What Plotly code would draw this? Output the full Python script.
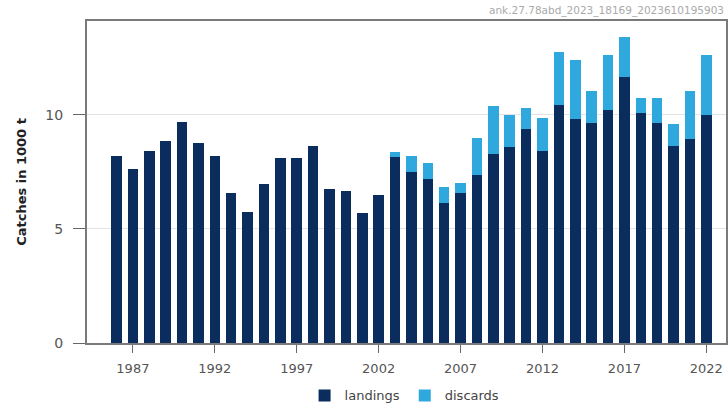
import plotly.graph_objects as go

years = list(range(1986, 2023))
landings = [8.2, 7.65, 8.4, 8.84, 9.68, 8.79, 8.18, 6.56, 5.75, 6.97, 8.1, 8.13, 8.65,
            6.75, 6.66, 5.72, 6.5, 8.17, 7.52, 7.19, 6.12, 6.59, 7.36, 8.27, 8.61,
            9.37, 8.42, 10.44, 9.82, 9.63, 10.22, 11.65, 10.07, 9.66, 8.65, 8.95, 10.01]
totals = [8.2, 7.65, 8.4, 8.84, 9.68, 8.79, 8.18, 6.56, 5.75, 6.97, 8.1, 8.13, 8.65,
          6.75, 6.66, 5.72, 6.5, 8.36, 8.21, 7.91, 6.82, 7.0, 8.97, 10.4, 10.01,
          10.29, 9.88, 12.74, 12.39, 11.07, 12.65, 13.44, 10.76, 10.76, 9.59, 11.07, 12.61]
discards = [round(t - l, 2) for t, l in zip(totals, landings)]
tick_years = [1987, 1992, 1997, 2002, 2007, 2012, 2017, 2022]
y_ticks = [0, 5, 10]

fig = go.Figure()
fig.add_trace(go.Bar(x=years, y=landings, name="landings", marker_color="#0b2d5e",
                     marker_line_width=0, width=0.64))
fig.add_trace(go.Bar(x=years, y=discards, name="discards", marker_color="#2fa8de",
                     marker_line_width=0, width=0.64))

fig.update_layout(
    width=728, height=406,
    barmode="stack",
    margin=dict(l=87, r=2, t=21, b=63, autoexpand=False),
    paper_bgcolor="white", plot_bgcolor="white",
    font=dict(family="DejaVu Sans", size=13, color="#555555"),
    legend=dict(orientation="h", x=0.497, xanchor="center", yref="container",
                y=0.026, yanchor="middle",
                font=dict(size=13, color="#444444"), itemwidth=30, traceorder="normal"),
    xaxis=dict(range=[1984.2, 2023.2], tickmode="array", tickvals=tick_years,
               ticks="outside", ticklen=8, tickcolor="#666666",
               showline=True, linecolor="#7a7a7a", linewidth=2, mirror=True,
               showgrid=False, zeroline=False, automargin=False, ticklabelstandoff=4,
               tickfont=dict(size=13, color="#555555")),
    yaxis=dict(range=[0, 14.12], tickmode="array", tickvals=y_ticks,
               ticks="outside", ticklen=12, tickcolor="#666666",
               showline=True, linecolor="#7a7a7a", linewidth=2, mirror=True,
               showgrid=True, gridcolor="#e3e3e3", gridwidth=1, zeroline=False,
               automargin=False, ticklabelstandoff=7,
               tickfont=dict(size=14, color="#555555"),
               title=dict(text="<b>Catches in 1000 t</b>", standoff=16,
                          font=dict(size=13, color="#222222"))),
    annotations=[dict(text="ank.27.78abd_2023_18169_2023610195903", xref="paper", yref="paper",
                      x=1.0, y=1.034, xanchor="right", yanchor="middle", showarrow=False,
                      font=dict(size=10.5, color="#aaaaaa"))],
)

fig.write_html("out.html", config={"displayModeBar": False},
               post_script="document.body.style.margin='0';document.body.style.overflow='hidden';")
